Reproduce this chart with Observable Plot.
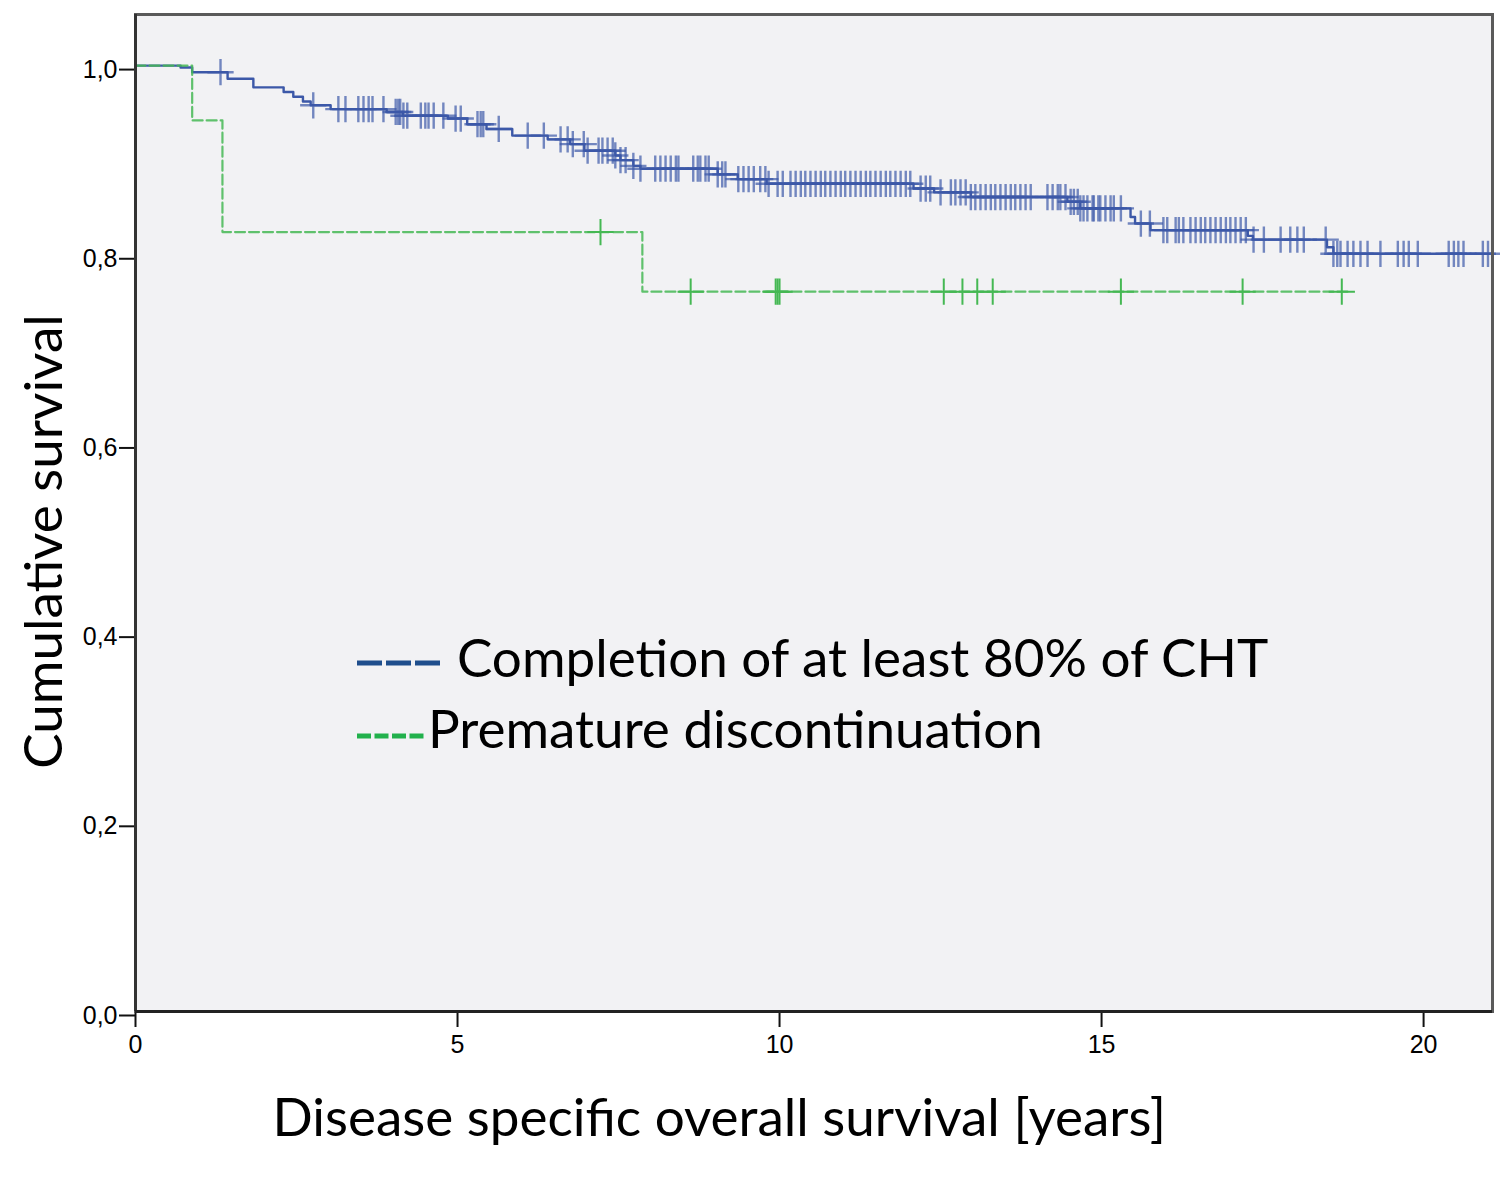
<!DOCTYPE html>
<html>
<head>
<meta charset="utf-8">
<script src="https://cdn.jsdelivr.net/npm/d3@7"></script>
<script src="https://cdn.jsdelivr.net/npm/@observablehq/plot@0.6"></script>
<style>
  html, body { margin: 0; padding: 0; background: #ffffff; }
  #wrap { position: relative; width: 1500px; height: 1179px; }
  #wrap svg { position: absolute; left: 0; top: 0; }
  .leg { position: absolute; font-family: Lato, "Open Sans", sans-serif; font-size: 53px; line-height: 53px; color: #000; white-space: nowrap; }
  .sw { position: absolute; }
</style>
</head>
<body>
<div id="wrap"></div>
<script>
// Kaplan-Meier step data (years, cumulative survival)
const blueT = [0, 0.7, 0.88, 1.43, 1.83, 2.3, 2.45, 2.6, 2.72, 3.03, 3.9, 4.15, 4.85, 5.15, 5.45, 5.85, 6.4, 6.75, 6.97, 7.45, 7.53, 7.73, 7.84, 9.04, 9.35, 9.8, 12.08, 12.4, 12.97, 14.47, 14.67, 15.45, 15.52, 15.76, 17.27, 17.35, 18.5, 18.6];
const blueS = [1.0, 0.998, 0.993, 0.986, 0.977, 0.972, 0.967, 0.962, 0.958, 0.954, 0.951, 0.947, 0.944, 0.938, 0.933, 0.926, 0.922, 0.917, 0.910, 0.905, 0.900, 0.894, 0.891, 0.885, 0.880, 0.875, 0.870, 0.866, 0.861, 0.856, 0.849, 0.840, 0.833, 0.826, 0.820, 0.816, 0.808, 0.801];
const blueEnd = 21.07;
const blueCensor = [1.32, 2.76, 3.15, 3.26, 3.46, 3.54, 3.62, 3.68, 3.85, 4.04, 4.08, 4.11, 4.16, 4.22, 4.43, 4.50, 4.55, 4.63, 4.78, 4.97, 5.05, 5.31, 5.36, 5.40, 5.64, 6.09, 6.34, 6.60, 6.71, 6.79, 6.96, 7.02, 7.19, 7.25, 7.33, 7.41, 7.45, 7.53, 7.61, 7.73, 7.84, 8.07, 8.15, 8.23, 8.31, 8.39, 8.43, 8.66, 8.73, 8.77, 8.85, 8.90, 9.04, 9.11, 9.16, 9.36, 9.44, 9.52, 9.60, 9.70, 9.78, 9.83, 9.97, 10.05, 10.17, 10.25, 10.33, 10.40, 10.48, 10.56, 10.64, 10.71, 10.79, 10.87, 10.95, 11.02, 11.10, 11.18, 11.26, 11.34, 11.41, 11.49, 11.57, 11.65, 11.72, 11.80, 11.88, 11.96, 12.03, 12.19, 12.27, 12.34, 12.50, 12.66, 12.73, 12.81, 12.89, 12.97, 13.04, 13.12, 13.20, 13.28, 13.35, 13.43, 13.51, 13.59, 13.66, 13.74, 13.82, 13.90, 14.16, 14.24, 14.32, 14.36, 14.44, 14.52, 14.57, 14.63, 14.67, 14.72, 14.78, 14.86, 14.88, 14.95, 14.98, 15.06, 15.14, 15.19, 15.30, 15.61, 15.75, 15.96, 16.02, 16.15, 16.20, 16.27, 16.38, 16.46, 16.54, 16.61, 16.69, 16.77, 16.85, 16.93, 17.00, 17.08, 17.16, 17.24, 17.36, 17.52, 17.78, 17.93, 18.04, 18.14, 18.48, 18.60, 18.66, 18.71, 18.82, 18.91, 19.02, 19.13, 19.33, 19.60, 19.69, 19.77, 19.91, 20.39, 20.47, 20.54, 20.62, 20.92, 21.00];

const greenT = [0, 0.88, 1.35, 7.87];
const greenS = [1.0, 0.942, 0.824, 0.761];
const greenEnd = 18.87;
const greenCensor = [7.22, 8.62, 9.94, 9.97, 10.0, 12.55, 12.84, 13.07, 13.31, 15.30, 17.19, 18.73];

const xTicks = [0, 5, 10, 15, 20];
const yTicks = [0, 0.2, 0.4, 0.6, 0.8, 1.0];

const xLabel = "Disease specific overall survival [years]";
const yLabel = "Cumulative survival";
const seriesNames = ["Completion of at least 80% of CHT", "Premature discontinuation"];

// build tables
function stepRows(T, S, end) {
  const rows = T.map((t, i) => ({t, s: S[i]}));
  rows.push({t: end, s: S[S.length - 1]});
  return rows;
}
function survAt(T, S, t) {
  let v = S[0];
  for (let i = 0; i < T.length; i++) if (T[i] <= t) v = S[i];
  return v;
}
const blueRows = stepRows(blueT, blueS, blueEnd);
const greenRows = stepRows(greenT, greenS, greenEnd);
const blueCens = blueCensor.map(t => ({t, s: survAt(blueT, blueS, t)}));
const greenCens = greenCensor.map(t => ({t, s: survAt(greenT, greenS, t)}));

const fmt = d => d3.format(".1f")(d).replace(".", ",");
const blueCol = "#3c58a8";
const greenCol = "#45b853";
const labelFont = 'Lato, "Open Sans", sans-serif';

const chart = Plot.plot({
  width: 1500,
  height: 1179,
  marginLeft: 135,
  marginRight: 8,
  marginTop: 14,
  marginBottom: 168,
  style: {background: "transparent", fontFamily: '"Liberation Sans", Arial, sans-serif'},
  x: {domain: [0, 21.07]},
  y: {domain: [0, 1.054]},
  marks: [
    Plot.frame({fill: "#f2f2f4"}),
    Plot.axisX({ticks: xTicks, tickSize: 16, tickPadding: 8, fontSize: 25, label: null, tickFormat: d => String(d), stroke: "#111", strokeWidth: 2, color: "#000"}),
    Plot.axisY({ticks: yTicks, tickSize: 16, tickPadding: 2, fontSize: 25, label: null, tickFormat: fmt, stroke: "#111", strokeWidth: 2, dy: 4, color: "#000"}),
    Plot.line(blueRows, {x: "t", y: "s", curve: "step-after", stroke: blueCol, strokeWidth: 2.4}),
    Plot.dot(blueCens, {x: "t", y: "s", symbol: "plus", r: 8.5, stroke: blueCol, strokeWidth: 2.4, strokeOpacity: 0.7}),
    Plot.line(greenRows, {x: "t", y: "s", curve: "step-after", stroke: greenCol, strokeWidth: 2.2, strokeDasharray: "10,4", strokeOpacity: 0.85}),
    Plot.dot(greenCens, {x: "t", y: "s", symbol: "plus", r: 8.5, stroke: greenCol, strokeWidth: 2}),
    Plot.frame({stroke: "#5a5a5a", strokeWidth: 3}),
    Plot.ruleX([0], {stroke: "#333", strokeWidth: 3}),
    Plot.ruleY([0], {stroke: "#222", strokeWidth: 3}),
    Plot.text([xLabel], {frameAnchor: "bottom-left", textAnchor: "start", dx: 137, dy: 124, fontSize: 53, fontFamily: labelFont, fill: "#000"}),
    Plot.text([yLabel], {frameAnchor: "left", textAnchor: "middle", rotate: -90, dx: -90, dy: 28.5, fontSize: 53, fontFamily: labelFont, fill: "#000"})
  ]
});
const wrap = document.getElementById("wrap");
wrap.appendChild(chart);

// legend overlay (inside plot area, as in the original)
const legendCols = ["#1f4e8c", "#22b14c"];
const legendDash = ["25,4", "14,3.5"];
const legendWidth = [83, 68];
const legendTop = [658, 731];
const textLeft = [457, 428];
const textTop = [630, 701];
seriesNames.forEach((name, i) => {
  const sw = document.createElementNS("http://www.w3.org/2000/svg", "svg");
  sw.setAttribute("class", "sw");
  sw.setAttribute("width", legendWidth[i]);
  sw.setAttribute("height", 10);
  sw.style.left = "357px";
  sw.style.top = legendTop[i] + "px";
  const ln = document.createElementNS("http://www.w3.org/2000/svg", "line");
  ln.setAttribute("x1", 0); ln.setAttribute("x2", legendWidth[i]);
  ln.setAttribute("y1", 5); ln.setAttribute("y2", 5);
  ln.setAttribute("stroke", legendCols[i]);
  ln.setAttribute("stroke-width", 5);
  ln.setAttribute("stroke-dasharray", legendDash[i]);
  sw.appendChild(ln);
  wrap.appendChild(sw);
  const tx = document.createElement("div");
  tx.className = "leg";
  tx.style.left = textLeft[i] + "px";
  tx.style.top = textTop[i] + "px";
  tx.textContent = name;
  wrap.appendChild(tx);
});
</script>
</body>
</html>
